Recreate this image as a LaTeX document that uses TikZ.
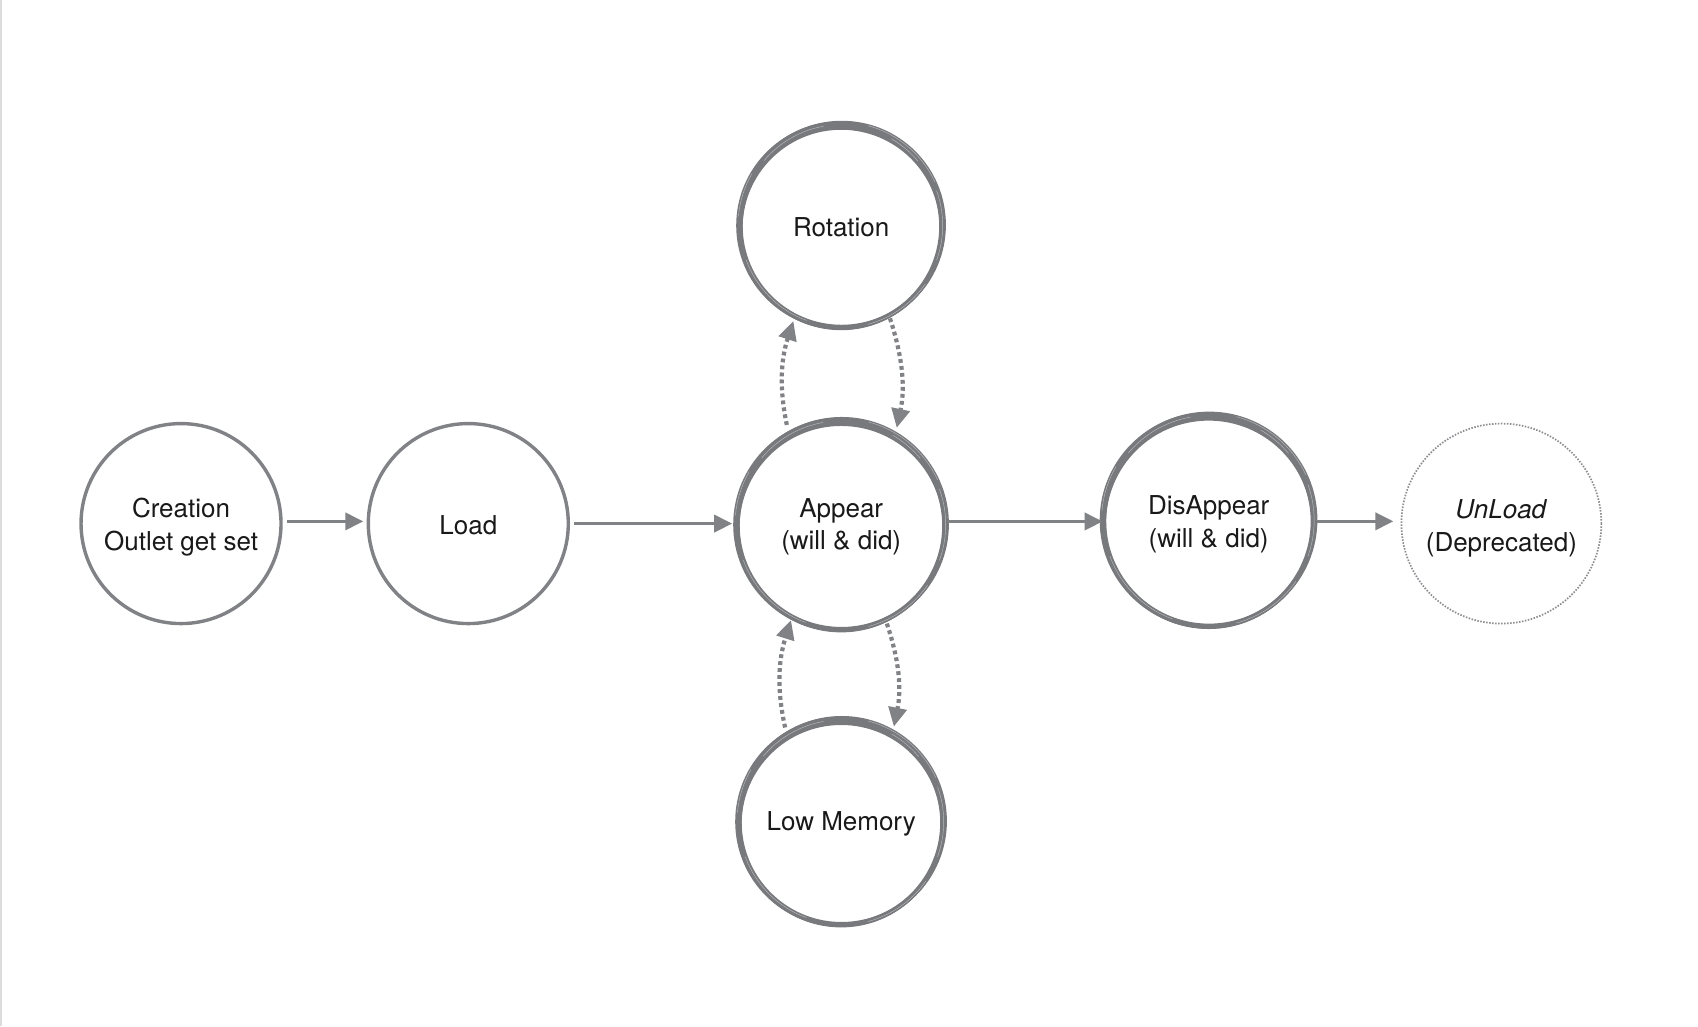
\documentclass[tikz,border=0pt]{standalone}
\usepackage{fontspec}
\setmainfont{TeX Gyre Heros}
\usetikzlibrary{arrows.meta}
\definecolor{lc}{RGB}{128,130,134}
\definecolor{bc}{RGB}{120,121,125}
\definecolor{tc}{RGB}{200,201,204}
\definecolor{dc}{RGB}{140,141,145}
\definecolor{edge}{RGB}{220,220,220}
\newcommand{\lift}[1]{\rule{0pt}{#1}}
\tikzset{
  txt/.style={font=\fontsize{26pt}{32.5pt}\selectfont, text=black!90, align=center, circle, inner sep=0pt, outer sep=0pt},
  plain/.style={txt, draw=lc, line width=3.4pt, minimum size=200pt},
  brushnode/.style={txt, draw=none},
  dotnode/.style={txt, draw=dc, line width=1.7pt, dash pattern=on 1.5pt off 1.5pt, minimum size=200pt},
  conn/.style={draw=lc, line width=3.6pt, -{Triangle[length=18pt,width=17pt]}},
  dotconn/.style={draw=lc, line width=4.2pt, dash pattern=on 3.8pt off 3.2pt, -{Triangle[length=19pt,width=18pt]}}
}
\newcommand{\brushring}[2]{%
  \foreach \dx/\dy/\dr/\w in {0/0/0/3.5, 0/-1.5/-0.8/3.2, -1/0/0.8/2.4, 0.6/0.6/1.4/1.4, 0/-3/-1.8/3.0, -1.2/-1/-1.6/2.4, 0.3/-0.5/-2.4/1.6}{%
    \pgfmathsetmacro\rr{#2+\dr}
    \draw[bc, line width=\w pt] ([xshift=\dx pt, yshift=\dy pt]#1.center) circle[radius=\rr pt];
  }%
  \foreach \a/\b/\dr in {25/75/1.3, 200/250/-0.9, 285/325/0.4, 100/140/-1.2, 150/175/1.2, 40/60/-1.8, 340/380/-0.5}{%
    \pgfmathsetmacro\rr{#2+\dr}
    \draw[tc, opacity=0.8, line width=0.45pt] ([shift={(\a:\rr pt)}]#1.center) arc[start angle=\a, end angle=\b, radius=\rr pt];
  }%
}
\begin{document}
\begin{tikzpicture}[x=1.084pt, y=1.084pt]
\useasboundingbox (0,0) rectangle (1566.4,-946.5);
\fill[white] (0,0) rectangle (1566.4,-946.5);
\fill[edge] (0,0) rectangle (1.9,-946.5);

\node[plain] (creation) at (167,-483) {\lift{27pt}Creation\\Outlet get set};
\node[plain] (load) at (432,-483) {\lift{23pt}Load};
\node[brushnode, minimum size=210pt] (appear) at (776,-484) {\lift{23.5pt}Appear\\(will \& did)};
\node[brushnode, minimum size=204pt] (rot) at (776,-208) {\lift{21.5pt}Rotation};
\node[brushnode, minimum size=206pt] (low) at (776,-758) {\lift{23pt}Low Memory};
\node[brushnode, minimum size=212pt] (dis) at (1115,-480) {\lift{27pt}DisAppear\\(will \& did)};
\node[dotnode] (unload) at (1385,-483) {\lift{28pt}\textit{UnLoad}\\(Deprecated)};

\brushring{appear}{105}
\brushring{rot}{102}
\brushring{low}{103}
\brushring{dis}{106}

\draw[conn, shorten <=6pt, shorten >=5pt] ([yshift=2.2pt]creation.east) -- ([yshift=2.2pt]creation.east -| load.west);
\draw[conn, shorten <=6pt, shorten >=4pt] (load.east) -- (load.east -| appear.west);
\draw[conn, shorten <=2pt, shorten >=0pt] ([yshift=3.2pt]appear.east) -- ([yshift=3.2pt]appear.east -| dis.west);
\draw[conn, shorten <=2pt, shorten >=8pt] ([yshift=-1pt]dis.east) -- ([yshift=-1pt]dis.east -| unload.west);

\draw[dotconn, shorten <=9pt, shorten >=5pt] (appear.120) to[bend left=15] (rot.-117);
\draw[dotconn, shorten <=3pt, shorten >=7pt] (rot.-62) to[bend left=15] (appear.59);
\draw[dotconn, shorten <=7pt, shorten >=3pt] (low.122) to[bend left=15] (appear.-118);
\draw[dotconn, shorten <=4pt, shorten >=6pt] (appear.-65) to[bend left=15] (low.60);
\end{tikzpicture}
\end{document}
